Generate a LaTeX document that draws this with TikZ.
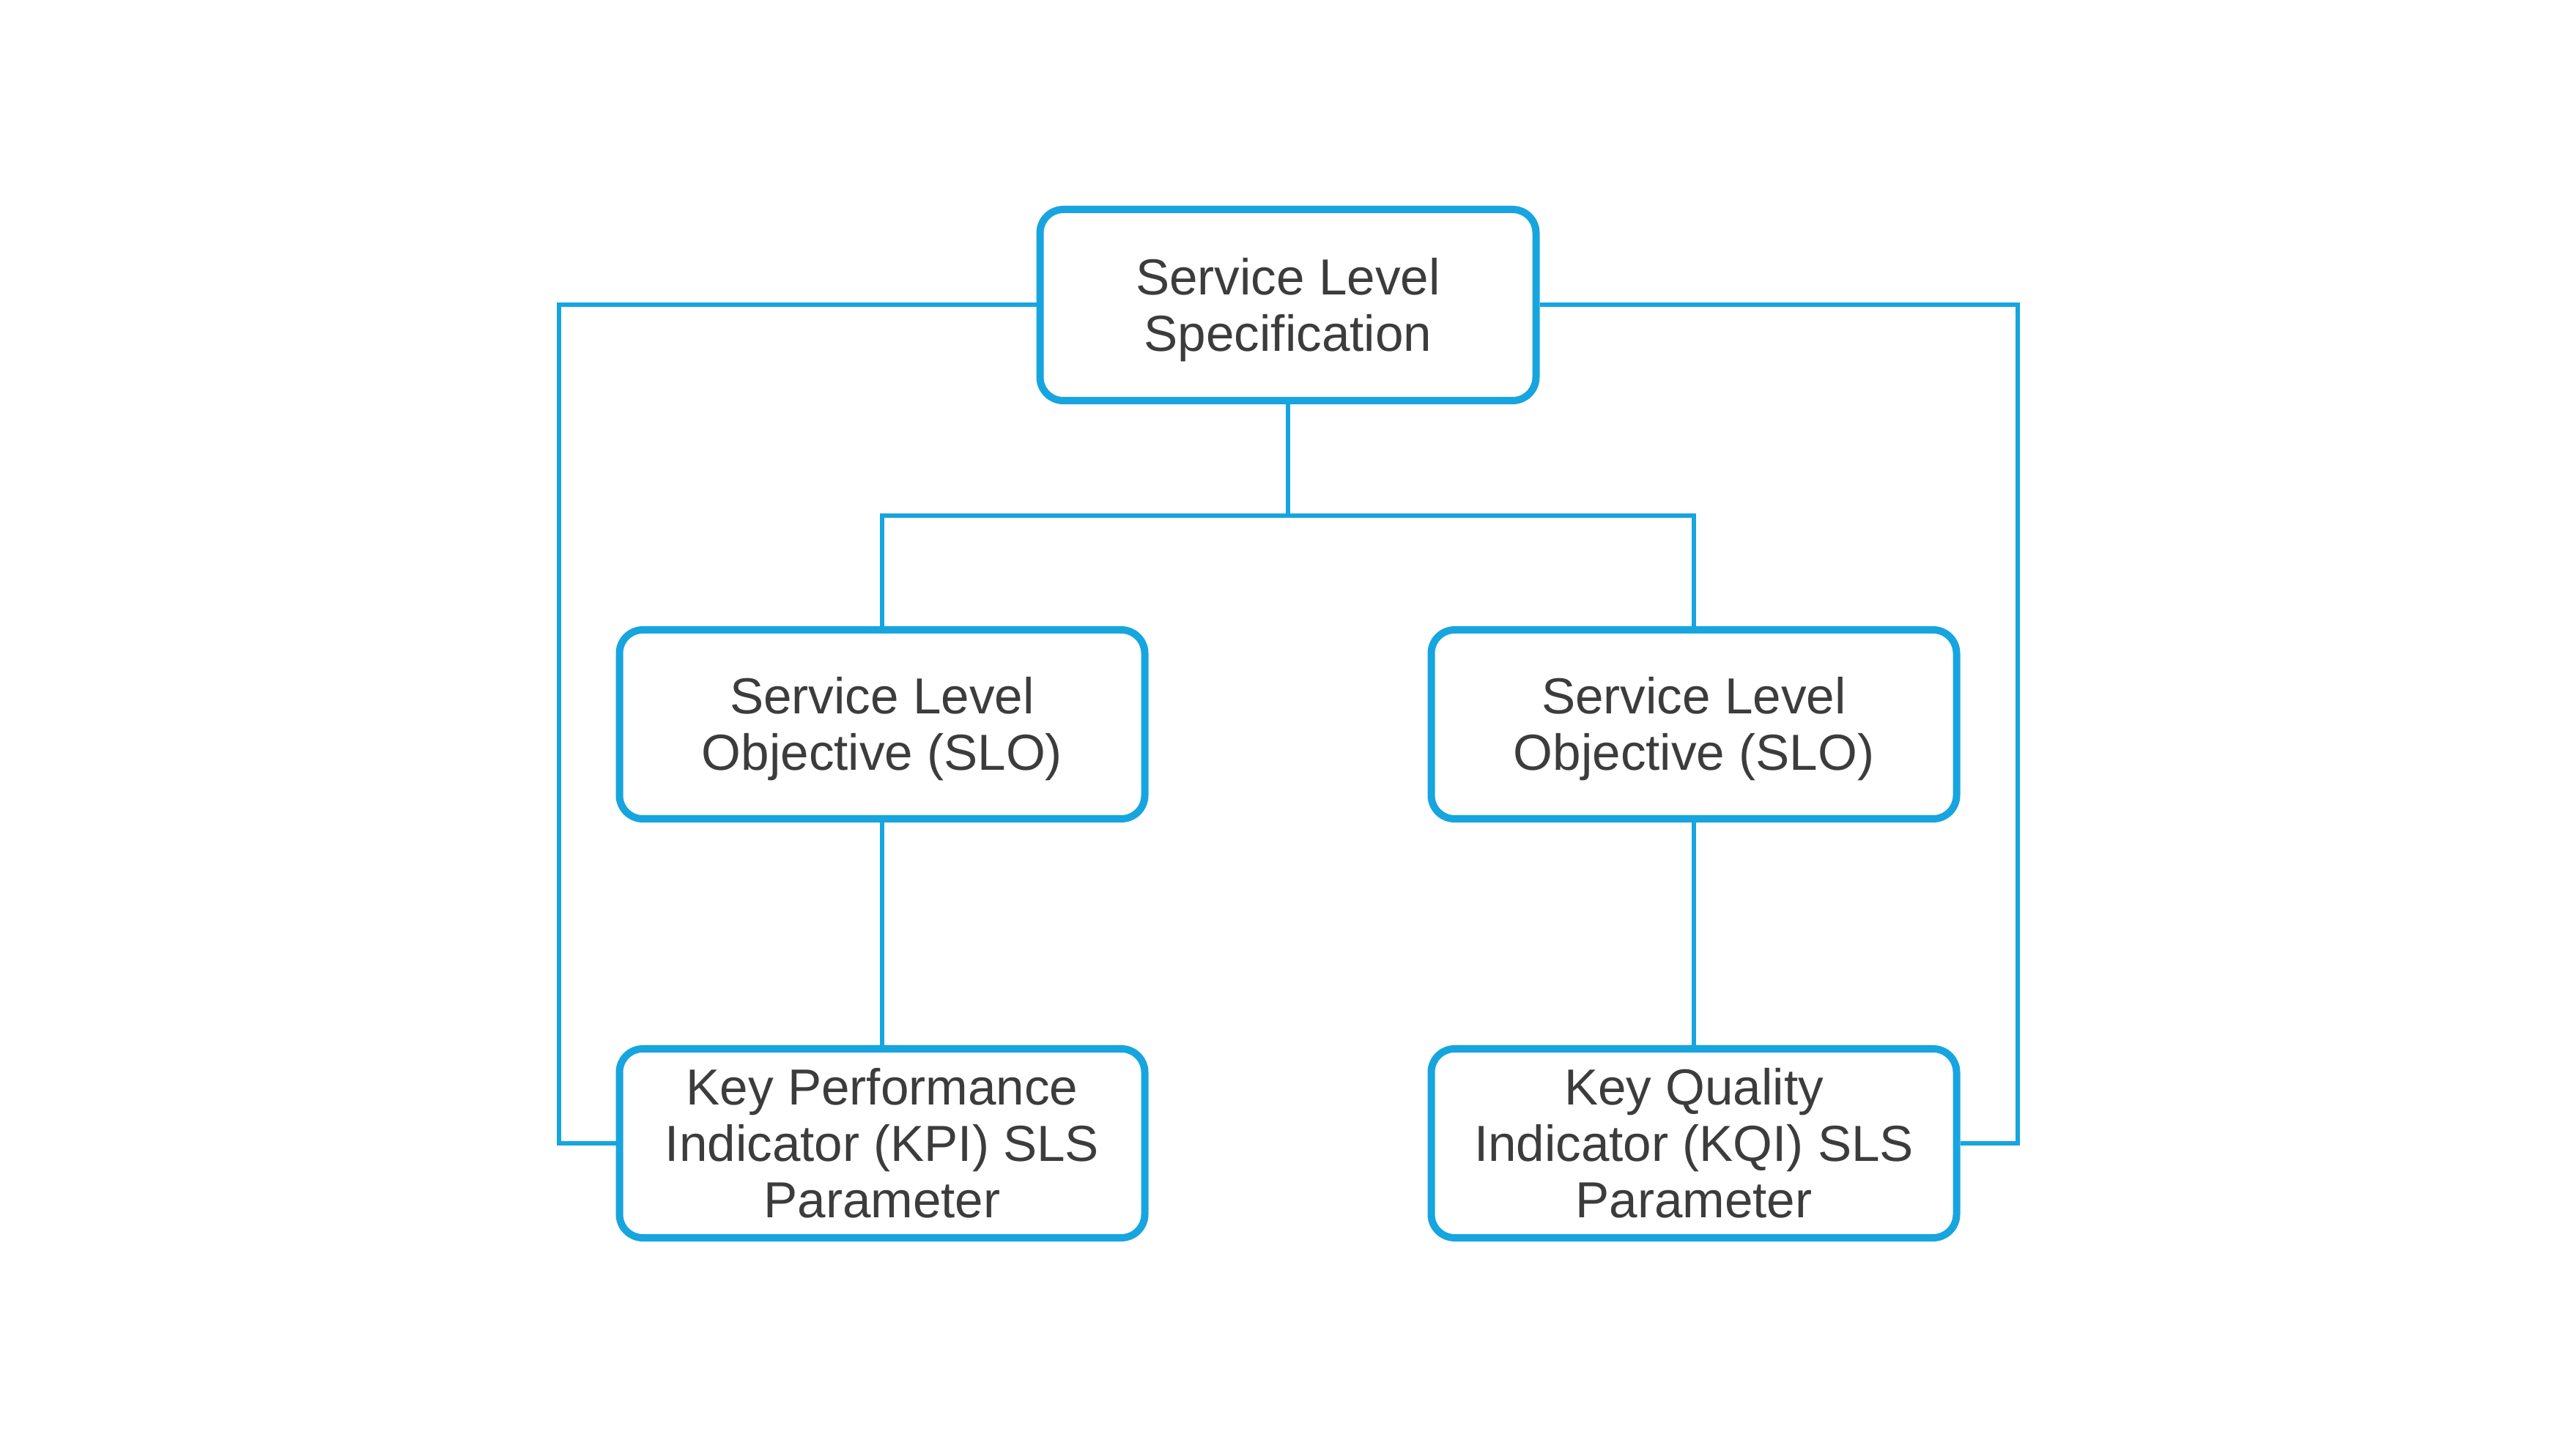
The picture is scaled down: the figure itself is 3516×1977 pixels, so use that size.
\documentclass[tikz,border=0pt]{standalone}
\usepackage{fontspec}
\setmainfont{Liberation Sans}
\definecolor{lineblue}{HTML}{17A5DF}
\definecolor{txtgray}{HTML}{3C3C3C}
\newcommand{\lowtext}[1]{\raisebox{-2.25pt}[\height][\depth]{\begin{tabular}{@{}c@{}}#1\end{tabular}}}
\begin{document}
\begin{tikzpicture}[x=0.25pt,y=-0.25pt,
  box/.style={draw=lineblue, line width=2.5pt, rounded corners=8pt, fill=white,
    inner sep=0pt, align=center, text=txtgray,
    font=\fontsize{17.3pt}{19.2pt}\selectfont},
  link/.style={draw=lineblue, line width=1.5pt}]
\useasboundingbox (0,0) rectangle (3516,1977);
\node[box, minimum width=169.25pt, minimum height=65.25pt] (sls) at (1758,416.5) {\lowtext{Service Level\\Specification}};
\node[box, minimum width=179.25pt, minimum height=64.5pt] (slol) at (1204,989) {\lowtext{Service Level\\Objective (SLO)}};
\node[box, minimum width=179.25pt, minimum height=64.5pt] (slor) at (2312,989) {\lowtext{Service Level\\Objective (SLO)}};
\node[box, minimum width=179.25pt, minimum height=64.5pt] (kpi) at (1204,1561) {\lowtext{Key Performance\\Indicator (KPI) SLS\\Parameter}};
\node[box, minimum width=179.25pt, minimum height=64.5pt] (kqi) at (2312,1561) {\lowtext{Key Quality\\Indicator (KQI) SLS\\Parameter}};
\coordinate (mid) at (1758,704);
\coordinate (lft) at (763,416.5);
\coordinate (rgt) at (2754,416.5);
\draw[link] (sls.south) -- (mid);
\draw[link] (mid) -| (slol.north);
\draw[link] (mid) -| (slor.north);
\draw[link] (slol.south) -- (kpi.north);
\draw[link] (slor.south) -- (kqi.north);
\draw[link] (sls.west) -- (lft) |- (kpi.west);
\draw[link] (sls.east) -- (rgt) |- (kqi.east);
\end{tikzpicture}
\end{document}
